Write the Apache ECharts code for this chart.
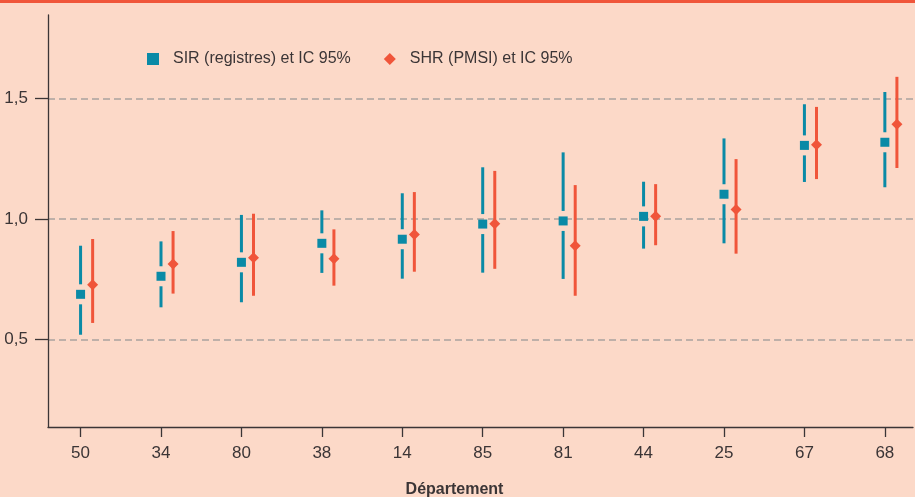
<!DOCTYPE html>
<html><head><meta charset="utf-8">
<script src="https://cdn.jsdelivr.net/npm/echarts@6/dist/echarts.min.js"></script>
<style>html,body{margin:0;padding:0;background:#fcd9c8}#c{width:915px;height:497px}</style>
</head><body><div id="c"></div>
<script>
const categories = ['50','34','80','38','14','85','81','44','25','67','68'];
const sirValues = [0.687,0.762,0.820,0.899,0.916,0.979,0.992,1.011,1.103,1.306,1.319];
const sirLow    = [0.519,0.633,0.654,0.776,0.752,0.777,0.751,0.877,0.899,1.154,1.132];
const sirHigh   = [0.889,0.907,1.017,1.036,1.107,1.215,1.277,1.155,1.335,1.477,1.528];
const shrValues = [0.727,0.813,0.839,0.835,0.936,0.980,0.889,1.012,1.040,1.309,1.394];
const shrLow    = [0.568,0.690,0.681,0.723,0.781,0.793,0.681,0.891,0.856,1.166,1.212];
const shrHigh   = [0.917,0.950,1.022,0.957,1.112,1.200,1.141,1.145,1.249,1.466,1.591];
const yTicks = [0.5, 1.0, 1.5];
const xTicks = categories.map((c, i) => i);

const TEAL = '#0a8aa6';
const RED = '#f0553a';
const INK = '#3b3536';
const FONT = "'Liberation Sans Narrow', 'Liberation Sans', Roboto, sans-serif";
const SHR_OFFSET = 0.15;
const GAP = 10;

const chart = echarts.init(document.getElementById('c'), null, {renderer: 'canvas'});

function sirErr(params, api) {
  const x = api.value(0);
  const lo = api.coord([x, api.value(1)]);
  const hi = api.coord([x, api.value(2)]);
  const pt = api.coord([x, api.value(3)]);
  const st = {stroke: TEAL, lineWidth: 3};
  return {type: 'group', children: [
    {type: 'line', shape: {x1: lo[0], y1: lo[1], x2: pt[0], y2: pt[1] + GAP}, style: st},
    {type: 'line', shape: {x1: pt[0], y1: pt[1] - GAP, x2: hi[0], y2: hi[1]}, style: st}
  ]};
}
function shrErr(params, api) {
  const x = api.value(0);
  const lo = api.coord([x, api.value(1)]);
  const hi = api.coord([x, api.value(2)]);
  return {type: 'line', shape: {x1: lo[0], y1: lo[1], x2: hi[0], y2: hi[1]}, style: {stroke: RED, lineWidth: 3}};
}

chart.setOption({
  animation: false,
  backgroundColor: '#fcd9c8',
  textStyle: {fontFamily: FONT, color: INK},
  graphic: [{type: 'rect', left: 0, top: 0, shape: {width: 915, height: 3}, style: {fill: RED}}],
  grid: {left: 48, top: 15, right: 2, bottom: 70, containLabel: false, outerBoundsMode: 'none'},
  legend: {
    left: 147, top: 51, padding: 0, itemWidth: 12, itemHeight: 12, itemGap: 33,
    textStyle: {fontFamily: FONT, fontSize: 16, color: INK, padding: [0, 0, 0, 9]},
    data: [{name: 'SIR (registres) et IC 95%', icon: 'rect'}, {name: 'SHR (PMSI) et IC 95%', icon: 'diamond'}]
  },
  xAxis: {
    type: 'value', min: -0.405, max: 10.35,
    name: 'Département', nameLocation: 'middle', nameGap: 55,
    nameTextStyle: {fontFamily: FONT, fontSize: 16, fontWeight: 'bold', color: INK, padding: [0, 52, 0, 0]},
    axisLine: {show: true, onZero: false, lineStyle: {color: INK, width: 1.3}},
    axisTick: {show: true, length: 10, customValues: xTicks, lineStyle: {color: INK, width: 1.3}},
    axisLabel: {customValues: xTicks, margin: 18, fontSize: 17, color: INK, fontFamily: FONT,
      formatter: v => categories[Math.round(v)]},
    splitLine: {show: false}
  },
  yAxis: {
    type: 'value', min: 0.1355, max: 1.848,
    axisLine: {show: true, onZero: false, lineStyle: {color: INK, width: 1.3}},
    axisTick: {show: true, length: 13, customValues: yTicks, lineStyle: {color: INK, width: 1.3}},
    axisLabel: {customValues: yTicks, margin: 20, fontSize: 17, color: INK, fontFamily: FONT,
      formatter: v => v.toFixed(1).replace('.', ',')},
    splitLine: {show: true, lineStyle: {color: '#a9a29e', width: 1.5, type: [7, 4]}}
  },
  series: [
    {type: 'custom', name: 'SIR IC', renderItem: sirErr, encode: {x: 0, y: [1, 2, 3]}, z: 2,
      data: categories.map((c, i) => [i, sirLow[i], sirHigh[i], sirValues[i]])},
    {type: 'custom', name: 'SHR IC', renderItem: shrErr, encode: {x: 0, y: [1, 2]}, z: 2,
      data: categories.map((c, i) => [i + SHR_OFFSET, shrLow[i], shrHigh[i]])},
    {type: 'scatter', name: 'SIR (registres) et IC 95%', symbol: 'rect', symbolSize: 9, z: 3,
      itemStyle: {color: TEAL, opacity: 1},
      data: categories.map((c, i) => [i, sirValues[i]])},
    {type: 'scatter', name: 'SHR (PMSI) et IC 95%', symbol: 'diamond', symbolSize: 11, z: 3,
      itemStyle: {color: RED, opacity: 1},
      data: categories.map((c, i) => [i + SHR_OFFSET, shrValues[i]])}
  ]
});
</script></body></html>
